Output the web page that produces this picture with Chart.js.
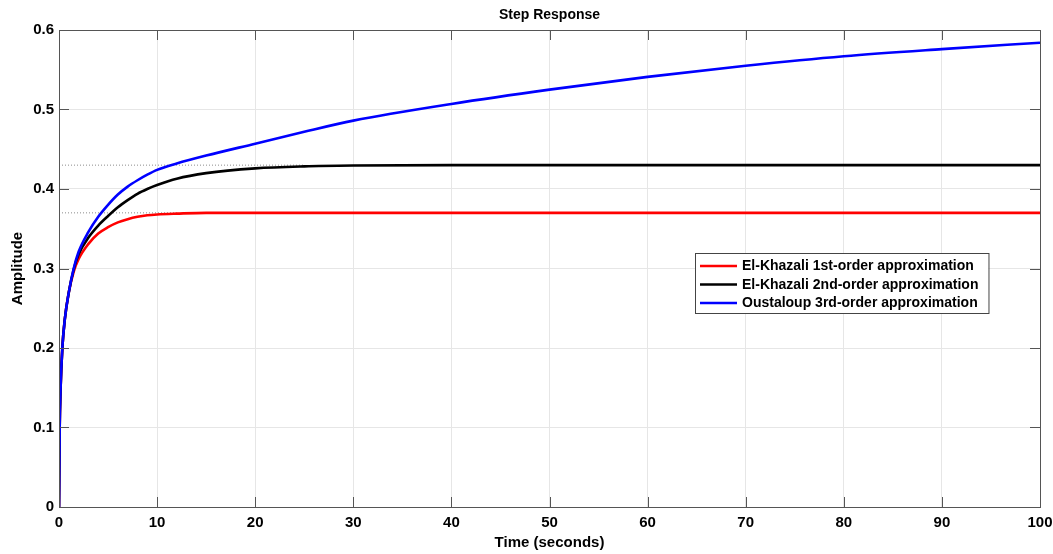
<!DOCTYPE html>
<html>
<head>
<meta charset="utf-8">
<script src="https://cdn.jsdelivr.net/npm/chart.js@4.4.1/dist/chart.umd.min.js"></script>
<style>
  html, body { margin: 0; padding: 0; background: #fff; }
  #wrap { width: 1053px; height: 554px; }
</style>
</head>
<body>
<div id="wrap"><canvas id="chart"></canvas></div>
<script>
// time samples (seconds) shared by the three step responses
const times = [0, 0.07, 0.15, 0.34, 0.6, 1, 1.5, 2, 3, 4, 5, 6, 7, 8, 9, 10, 12, 15, 20, 25, 30, 40, 50, 60, 70, 80, 90, 100];
const firstOrder  = [0, 0.1, 0.145, 0.2, 0.237, 0.27, 0.296, 0.312, 0.331, 0.344, 0.352, 0.358, 0.362, 0.365, 0.367, 0.368, 0.369, 0.37, 0.37, 0.37, 0.37, 0.37, 0.37, 0.37, 0.37, 0.37, 0.37, 0.37];
const secondOrder = [0, 0.1, 0.145, 0.2, 0.237, 0.27, 0.299, 0.318, 0.339, 0.354, 0.366, 0.377, 0.386, 0.394, 0.4, 0.405, 0.413, 0.42, 0.426, 0.4285, 0.4295, 0.43, 0.43, 0.43, 0.43, 0.43, 0.43, 0.43];
const oustaloup   = [0, 0.1, 0.145, 0.2, 0.237, 0.27, 0.3, 0.321, 0.346, 0.365, 0.38, 0.393, 0.403, 0.411, 0.418, 0.424, 0.432, 0.442, 0.457, 0.472, 0.486, 0.507, 0.525, 0.541, 0.555, 0.567, 0.576, 0.584];
const seriesNames = ['El-Khazali 1st-order approximation', 'El-Khazali 2nd-order approximation', 'Oustaloup 3rd-order approximation'];
const seriesColors = ['#ff0000', '#000000', '#0000ff'];
// steady-state marker lines: [value, end time]
const steadyFirst = [0.37, 12];
const steadySecond = [0.43, 25];

const xTicks = [0, 10, 20, 30, 40, 50, 60, 70, 80, 90, 100];
const yTicks = [0, 0.1, 0.2, 0.3, 0.4, 0.5, 0.6];

const FONT = "'Liberation Sans', Arial, Helvetica, sans-serif";

function toPoints(vals) {
    return times.map((t, i) => ({x: t, y: vals[i]}));
}
function steadyLine(s) {
    return [{x: 0, y: s[0]}, {x: s[1], y: s[0]}];
}

const curves = [firstOrder, secondOrder, oustaloup].map((vals, i) => ({
    label: seriesNames[i],
    data: toPoints(vals),
    borderColor: seriesColors[i],
    borderWidth: 2.6,
    pointRadius: 0,
    cubicInterpolationMode: 'monotone',
    fill: false,
    order: 3 - i
}));

const dotted = [steadyFirst, steadySecond].map(s => ({
    label: '',
    data: steadyLine(s),
    borderColor: '#8c8c8c',
    borderWidth: 1,
    borderDash: [1, 2],
    pointRadius: 0,
    fill: false,
    order: 10
}));

// box, inner tick marks, title and legend, MATLAB style
const matlabLook = {
    id: 'matlabLook',
    afterDatasetsDraw(chart) {
        const {ctx, chartArea: a, scales: {x, y}} = chart;
        ctx.save();
        ctx.strokeStyle = '#555';
        ctx.lineWidth = 1;
        ctx.beginPath();
        xTicks.forEach(v => {
            const px = Math.round(x.getPixelForValue(v)) + 0.5;
            ctx.moveTo(px, a.bottom); ctx.lineTo(px, a.bottom - 10);
            ctx.moveTo(px, a.top); ctx.lineTo(px, a.top + 10);
        });
        yTicks.forEach(v => {
            const py = Math.round(y.getPixelForValue(v)) + 0.5;
            ctx.moveTo(a.left, py); ctx.lineTo(a.left + 10, py);
            ctx.moveTo(a.right, py); ctx.lineTo(a.right - 10, py);
        });
        ctx.stroke();
        ctx.strokeRect(Math.round(a.left) + 0.5, Math.round(a.top) + 0.5,
                       Math.round(a.right - a.left), Math.round(a.bottom - a.top));

        // title
        ctx.fillStyle = '#000';
        ctx.font = "bold 14px 'Liberation Sans Narrow', " + FONT;
        ctx.textAlign = 'center';
        ctx.textBaseline = 'middle';
        ctx.fillText('Step Response', (a.left + a.right) / 2, 15);

        // legend
        ctx.font = 'bold 14px ' + FONT;
        ctx.textAlign = 'left';
        const lx = 695, ly = 253, rowH = 18.5;
        const tw = Math.max(...seriesNames.map(n => ctx.measureText(n).width));
        const bw = 5 + 37 + 5 + tw + 10, bh = 60;
        ctx.fillStyle = '#fff';
        ctx.fillRect(lx, ly, bw, bh);
        ctx.strokeStyle = '#444';
        ctx.strokeRect(lx + 0.5, ly + 0.5, bw, bh);
        seriesNames.forEach((n, i) => {
            const cy = ly + 13 + i * rowH;
            ctx.strokeStyle = seriesColors[i];
            ctx.lineWidth = 2.6;
            ctx.beginPath();
            ctx.moveTo(lx + 5, cy); ctx.lineTo(lx + 42, cy);
            ctx.stroke();
            ctx.fillStyle = '#000';
            ctx.fillText(n, lx + 47, cy + 0.5);
        });
        ctx.restore();
    }
};

new Chart(document.getElementById('chart'), {
    type: 'line',
    data: { datasets: dotted.concat(curves) },
    options: {
        responsive: true,
        maintainAspectRatio: false,
        animation: false,
        layout: { padding: { top: 30, right: 13, left: 0, bottom: 0 } },
        plugins: {
            legend: { display: false },
            title: { display: false },
            tooltip: { enabled: false }
        },
        scales: {
            x: {
                type: 'linear',
                min: 0, max: 100,
                afterFit: s => { s.height = 47; s.paddingLeft = 0; s.paddingRight = 0; },
                afterBuildTicks: s => { s.ticks = xTicks.map(v => ({value: v})); },
                grid: { color: '#e6e6e6', drawTicks: false, tickLength: 0 },
                border: { display: false },
                ticks: { color: '#000', padding: 7, maxRotation: 0, font: { family: FONT, size: 15, weight: 'bold' } },
                title: { display: true, text: 'Time (seconds)', color: '#000', padding: { top: 0, bottom: 2 },
                         font: { family: FONT, size: 15, weight: 'bold' } }
            },
            y: {
                min: 0, max: 0.6,
                afterFit: s => { s.width = 59; s.paddingTop = 0; s.paddingBottom = 0; },
                afterBuildTicks: s => { s.ticks = yTicks.map(v => ({value: v})); },
                grid: { color: '#e6e6e6', drawTicks: false, tickLength: 0 },
                border: { display: false },
                ticks: { color: '#000', padding: 5,
                         callback: v => v === 0 ? '0' : v.toFixed(1),
                         font: { family: FONT, size: 15, weight: 'bold' } },
                title: { display: true, text: 'Amplitude', color: '#000', padding: { top: 9, bottom: 0 },
                         font: { family: FONT, size: 15, weight: 'bold' } }
            }
        }
    },
    plugins: [matlabLook]
});
</script>
</body>
</html>
